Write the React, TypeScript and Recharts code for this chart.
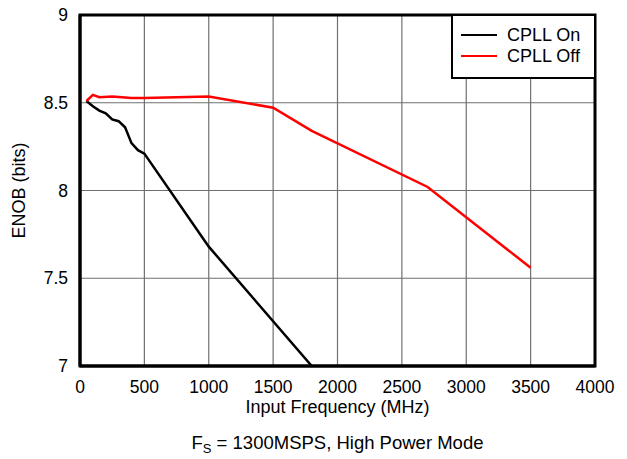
import { LineChart, Line, XAxis, YAxis, CartesianGrid, Legend, ReferenceArea, Label } from "recharts";

// CPLL On (black)
const freqOn = [50, 100, 150, 200, 250, 300, 350, 400, 450, 500, 1000, 1800];
const enobOn = [8.51, 8.48, 8.455, 8.44, 8.405, 8.395, 8.36, 8.27, 8.23, 8.21, 7.68, 7.0];

// CPLL Off (red)
const freqOff = [50, 100, 150, 250, 400, 500, 1000, 1500, 1800, 2700, 3500];
const enobOff = [8.51, 8.545, 8.532, 8.535, 8.527, 8.527, 8.535, 8.472, 8.34, 8.02, 7.56];

const xTicks = [0, 500, 1000, 1500, 2000, 2500, 3000, 3500, 4000];
const yTicks = [7, 7.5, 8, 8.5, 9];

const FONT = '"Liberation Sans", Arial, Helvetica, sans-serif';

const onData = freqOn.map((f, i) => ({ freq: f, enob: enobOn[i] }));
const offData = freqOff.map((f, i) => ({ freq: f, enob: enobOff[i] }));

const renderLegend = () => (
  <div
    style={{
      position: "relative",
      width: 145,
      height: 65,
      border: "2.5px solid #000",
      boxSizing: "border-box",
      background: "#fff",
      fontFamily: FONT,
      fontSize: 18,
      color: "#000",
    }}
  >
    {[
      { name: "CPLL On", color: "#000" },
      { name: "CPLL Off", color: "#ff0000" },
    ].map((it, i) => (
      <div key={it.name} style={{ position: "absolute", left: 8, top: 9 + i * 21, height: 20, display: "flex", alignItems: "center" }}>
        <span style={{ display: "inline-block", width: 36, height: 2.5, background: it.color, marginRight: 10 }} />
        <span style={{ lineHeight: "20px" }}>{it.name}</span>
      </div>
    ))}
  </div>
);

// axis title + caption under the plot
const renderXLabel = (props: any) => {
  const { x, y, width } = props.viewBox;
  const cx = x + width / 2;
  return (
    <g fontFamily={FONT} fill="#000">
      <text x={cx} y={y + 47} textAnchor="middle" fontSize={18}>
        Input Frequency (MHz)
      </text>
      <text x={cx} y={y + 83} textAnchor="middle" fontSize={18.5}>
        F<tspan fontSize={13} dy={4}>S</tspan>
        <tspan dy={-4}> = 1300MSPS, High Power Mode</tspan>
      </text>
    </g>
  );
};

const renderYLabel = (props: any) => {
  const { y, height } = props.viewBox;
  const cy = y + height / 2;
  return (
    <text
      x={25}
      y={cy}
      transform={`rotate(-90, 25, ${cy})`}
      textAnchor="middle"
      fontFamily={FONT}
      fontSize={18}
      fill="#000"
    >
      ENOB (bits)
    </text>
  );
};

export default function App() {
  return (
    <div style={{ position: "absolute", left: 0, top: 0, width: 627, height: 459, background: "#fff" }}>
      <LineChart width={627} height={459} margin={{ top: 15, right: 32, bottom: 0, left: 0 }}>
        <CartesianGrid stroke="#707070" strokeWidth={1.2} horizontalValues={yTicks} verticalValues={xTicks} />
        <XAxis
          type="number"
          dataKey="freq"
          domain={[0, 4000]}
          ticks={xTicks}
          allowDataOverflow
          height={93}
          tickLine={false}
          axisLine={{ stroke: "#000", strokeWidth: 3 }}
          tickMargin={9}
          tick={{ fill: "#000", fontSize: 17.5, fontFamily: FONT }}
        >
          <Label content={renderXLabel} />
        </XAxis>
        <YAxis
          type="number"
          domain={[7, 9]}
          ticks={yTicks}
          allowDataOverflow
          width={80}
          tickLine={false}
          axisLine={{ stroke: "#000", strokeWidth: 3 }}
          tickMargin={6}
          tick={{ fill: "#000", fontSize: 17.5, fontFamily: FONT }}
        >
          <Label content={renderYLabel} />
        </YAxis>
        <ReferenceArea x1={0} x2={4000} y1={7} y2={9} fill="none" stroke="#000" strokeWidth={3} ifOverflow="visible" />
        <Line data={onData} dataKey="enob" name="CPLL On" type="linear" stroke="#000" strokeWidth={2.5} dot={false} isAnimationActive={false} />
        <Line data={offData} dataKey="enob" name="CPLL Off" type="linear" stroke="#ff0000" strokeWidth={2.5} dot={false} isAnimationActive={false} />
        <Legend
          layout="horizontal"
          verticalAlign="middle"
          align="center"
          content={renderLegend}
          wrapperStyle={{ left: 451, top: 14, width: 145, height: 65 }}
        />
      </LineChart>
    </div>
  );
}
